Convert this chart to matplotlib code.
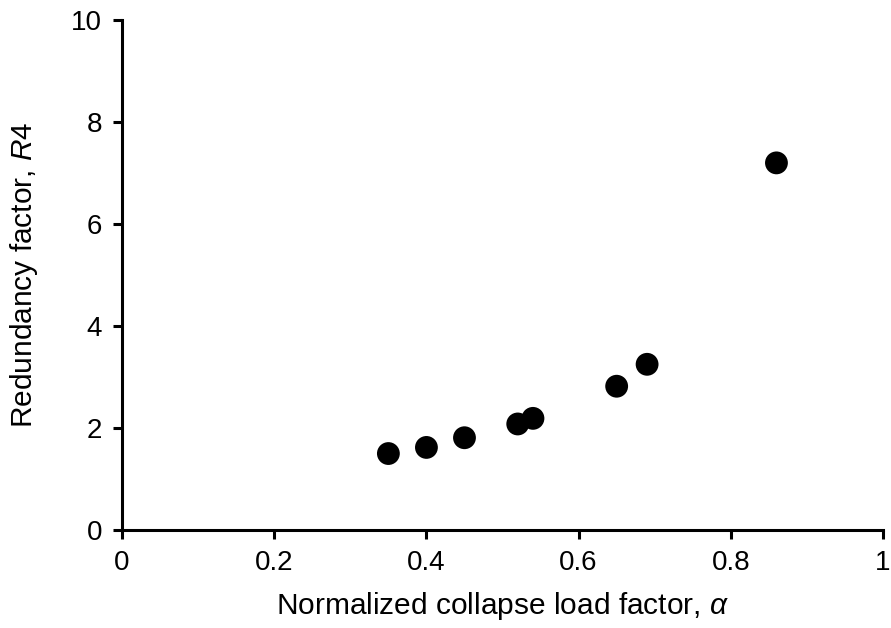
import matplotlib
matplotlib.use("Agg")
import matplotlib.pyplot as plt

# collapse load factor vs redundancy factor
alpha = [0.35, 0.40, 0.45, 0.52, 0.54, 0.65, 0.69, 0.86]
r4 = [1.50, 1.62, 1.81, 2.08, 2.19, 2.82, 3.25, 7.20]

x_ticks = [0, 0.2, 0.4, 0.6, 0.8, 1]
x_ticklabels = ["0", "0.2", "0.4", "0.6", "0.8", "1"]
y_ticks = [0, 2, 4, 6, 8, 10]

plt.rcParams["font.family"] = ["Liberation Sans", "DejaVu Sans"]
plt.rcParams["mathtext.fontset"] = "custom"
plt.rcParams["mathtext.it"] = "Liberation Sans:italic"
plt.rcParams["mathtext.rm"] = "Liberation Sans"

fig = plt.figure(figsize=(8.91, 6.28), dpi=100)
ax = fig.add_axes([0.137, 0.156, 0.854, 0.812])

ax.scatter(alpha, r4, s=270, color="black", edgecolors="none", zorder=3)

ax.set_xlim(0, 1)
ax.set_ylim(0, 10)
ax.set_xticks(x_ticks)
ax.set_xticklabels(x_ticklabels)
ax.set_yticks(y_ticks)

for side in ("top", "right"):
    ax.spines[side].set_visible(False)
for side in ("left", "bottom"):
    ax.spines[side].set_linewidth(2.2)

ax.tick_params(axis="both", direction="out", length=6.5, width=2.2,
               labelsize=20, pad=8)

ax.set_xlabel("Normalized collapse load factor, $\\mathit{\\alpha}$",
              fontsize=21.5, labelpad=10)
ax.set_ylabel("Redundancy factor, $\\mathit{R4}$", fontsize=21.5, labelpad=22)

fig.savefig("out.png", dpi=100)
